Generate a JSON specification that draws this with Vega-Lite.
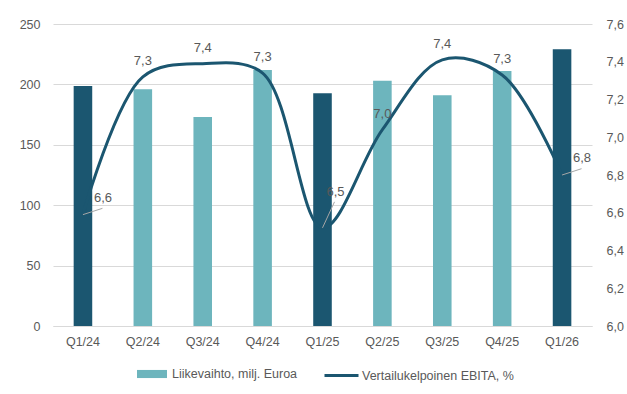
{
  "$schema": "https://vega.github.io/schema/vega-lite/v6.json",
  "width": 539,
  "height": 302,
  "autosize": "none",
  "padding": {"left": 53, "top": 24, "right": 35, "bottom": 68},
  "background": "white",
  "config": {
    "view": {"stroke": null},
    "font": "Liberation Sans",
    "locale": {"number": {"decimal": ",", "thousands": "\u00a0", "grouping": [3], "currency": ["", "\u00a0€"]}}
  },
  "data": {
    "values": [
      {"q": "Q1/24", "sales": 198.6, "ebita": 6.59},
      {"q": "Q2/24", "sales": 196, "ebita": 7.32},
      {"q": "Q3/24", "sales": 173, "ebita": 7.39},
      {"q": "Q4/24", "sales": 212, "ebita": 7.34},
      {"q": "Q1/25", "sales": 192.6, "ebita": 6.52},
      {"q": "Q2/25", "sales": 203, "ebita": 7.04},
      {"q": "Q3/25", "sales": 191, "ebita": 7.41},
      {"q": "Q4/25", "sales": 211, "ebita": 7.33},
      {"q": "Q1/26", "sales": 229, "ebita": 6.8}
    ]
  },
  "encoding": {
    "x": {
      "field": "q",
      "type": "ordinal",
      "sort": null,
      "title": null,
      "scale": {"paddingInner": 0, "paddingOuter": 0},
      "axis": {
        "orient": "bottom",
        "labelAngle": 0,
        "domain": true,
        "domainColor": "#d9d9d9",
        "ticks": false,
        "grid": false,
        "labelColor": "#595959",
        "labelFontSize": 12.5,
        "labelPadding": 9
      }
    }
  },
  "layer": [
    {
      "mark": {"type": "bar", "width": {"band": 0.31}, "strokeWidth": 0},
      "encoding": {
        "y": {
          "field": "sales",
          "type": "quantitative",
          "title": null,
          "scale": {"domain": [0, 250], "nice": false},
          "axis": {
            "orient": "left",
            "values": [0, 50, 100, 150, 200, 250],
            "domain": false,
            "ticks": false,
            "grid": true,
            "gridColor": "#d9d9d9",
            "gridWidth": 1,
            "labelColor": "#595959",
            "labelFontSize": 12.5,
            "labelPadding": 13
          }
        },
        "fill": {
          "condition": {"test": "indexof(datum.q, 'Q1') === 0", "value": "#1b5670"},
          "datum": "Liikevaihto, milj. Euroa",
          "scale": {"range": ["#6db5bd"]},
          "legend": {
            "orient": "none",
            "legendX": 84,
            "legendY": 335,
            "title": null,
            "symbolType": "M-1,-0.27H1V0.27H-1Z",
            "symbolSize": 900,
            "symbolStrokeWidth": 0,
            "labelColor": "#595959",
            "labelFontSize": 12.5,
            "labelOffset": 5
          }
        }
      }
    },
    {
      "encoding": {
        "y": {
          "field": "ebita",
          "type": "quantitative",
          "title": null,
          "scale": {"domain": [6, 7.6], "nice": false, "zero": false},
          "axis": {
            "orient": "right",
            "values": [6, 6.2, 6.4, 6.6, 6.8, 7, 7.2, 7.4, 7.6],
            "format": ".1f",
            "domain": false,
            "ticks": false,
            "grid": false,
            "labelColor": "#595959",
            "labelFontSize": 12.5,
            "labelPadding": 14
          }
        }
      },
      "layer": [
        {
          "mark": {"type": "line", "interpolate": "catmull-rom", "strokeWidth": 3, "strokeCap": "round"},
          "encoding": {
            "stroke": {
              "datum": "Vertailukelpoinen EBITA, %",
              "scale": {"range": ["#1b5670"]},
              "legend": {
                "orient": "none",
                "legendX": 270,
                "legendY": 333,
                "title": null,
                "symbolType": "stroke",
                "symbolSize": 1156,
                "symbolStrokeWidth": 3,
                "labelColor": "#595959",
                "labelFontSize": 12.5,
                "labelOffset": 2
              }
            }
          }
        },
        {
          "transform": [{"filter": "indexof(datum.q, 'Q1') !== 0"}],
          "mark": {"type": "text", "dy": -16, "baseline": "middle", "fontSize": 13, "fill": "#595959"},
          "encoding": {"text": {"field": "ebita", "type": "quantitative", "format": ".1f"}}
        },
        {
          "transform": [{"filter": "datum.q === 'Q1/24' || datum.q === 'Q1/26'"}],
          "mark": {"type": "text", "dx": 20, "dy": -17, "baseline": "middle", "fontSize": 13, "fill": "#595959"},
          "encoding": {"text": {"field": "ebita", "type": "quantitative", "format": ".1f"}}
        },
        {
          "transform": [{"filter": "datum.q === 'Q1/25'"}],
          "mark": {"type": "text", "dx": 13, "dy": -36, "baseline": "middle", "fontSize": 13, "fill": "#595959"},
          "encoding": {"text": {"field": "ebita", "type": "quantitative", "format": ".1f"}}
        },
        {
          "transform": [{"filter": "datum.q === 'Q1/24' || datum.q === 'Q1/26'"}],
          "mark": {"type": "point", "shape": "M0,0L1.95,-0.63", "size": 400, "filled": false, "stroke": "#a6a6a6", "strokeWidth": 1, "opacity": 1}
        },
        {
          "transform": [{"filter": "datum.q === 'Q1/25'"}],
          "mark": {"type": "point", "shape": "M0,0L1.2,-2.6", "size": 400, "filled": false, "stroke": "#a6a6a6", "strokeWidth": 1, "opacity": 1}
        }
      ]
    }
  ],
  "resolve": {"scale": {"y": "independent"}}
}
